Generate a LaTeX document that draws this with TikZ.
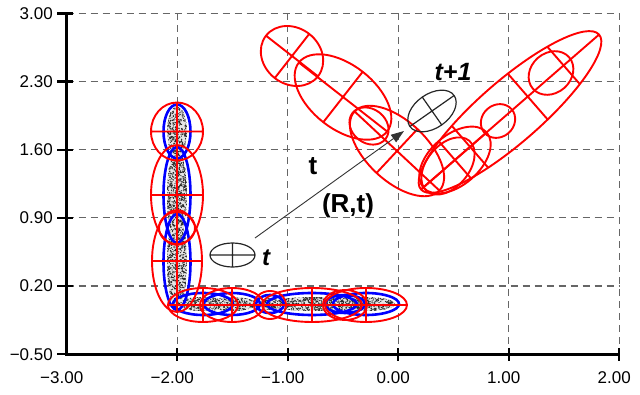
\documentclass[tikz,border=0pt]{standalone}
\usepackage{fontspec}
\setmainfont{Liberation Sans}
\usetikzlibrary{arrows.meta}
\tikzset{
  redline/.style={draw=red, line width=1.9pt},
  blueline/.style={draw=blue, line width=2.6pt},
  blackline/.style={draw=black!85, line width=1.2pt},
  gridline/.style={draw=black!60, line width=1.2pt, dash pattern=on 7pt off 5pt},
  axisline/.style={draw=black, line width=2.6pt},
  tickmark/.style={draw=black, line width=2.4pt},
  ticklabel/.style={font=\fontsize{17}{17}\selectfont, inner sep=0pt},
  biglabel/.style={font=\fontsize{25}{25}\selectfont\bfseries, inner sep=0pt},
  stipple/.style={fill=black!85},
}
\newcommand\ellX[5]{\draw[redline,shift={(#1,#2)},rotate=#3] (0,0) ellipse ({#4} and {#5}) (-#4,0)--(#4,0) (0,-#5)--(0,#5);}
\newcommand\ellO[5]{\draw[redline,shift={(#1,#2)},rotate=#3] (0,0) ellipse ({#4} and {#5});}
\begin{document}
\begin{tikzpicture}[x=1pt,y=-1pt]
\useasboundingbox (0,0) rectangle (640,395);
\fill[white] (0,0) rectangle (640,395);
% grid
\foreach \gx in {177.2,287.7,398.2,508.7,619.2} \draw[gridline] (\gx,13.4) -- (\gx,354.3);
\foreach \gy in {13.4,81.6,149.8,217.9,286.1} \draw[gridline] (66.7,\gy) -- (619.2,\gy);
% axes
\draw[axisline] (66.7,13.4) -- (66.7,354.3) -- (619.2,354.3);
\foreach \gy in {13.4,81.6,149.8,217.9,286.1,354.3} \draw[tickmark] (57,\gy) -- (73,\gy);
\foreach \gx in {177.2,287.7,398.2,508.7,619.2} \draw[tickmark] (\gx,348) -- (\gx,361);
% tick labels
\node[ticklabel, anchor=east] (y1) at (53,13.4) {3.00};
\node[ticklabel, anchor=east] (y2) at (53,81.6) {2.30};
\node[ticklabel, anchor=east] (y3) at (53,149.8) {1.60};
\node[ticklabel, anchor=east] (y4) at (53,217.9) {0.90};
\node[ticklabel, anchor=east] (y5) at (53,286.1) {0.20};
\node[ticklabel, anchor=east] (y6) at (53,354.3) {−0.50};
\node[ticklabel, anchor=base] (x1) at (61.7,383) {−3.00};
\node[ticklabel, anchor=base] (x2) at (172.2,383) {−2.00};
\node[ticklabel, anchor=base] (x3) at (282.7,383) {−1.00};
\node[ticklabel, anchor=base] (x4) at (393.2,383) {0.00};
\node[ticklabel, anchor=base] (x5) at (503.7,383) {1.00};
\node[ticklabel, anchor=base] (x6) at (614.2,383) {2.00};
% stipple (vertical)
\pgfmathsetseed{11}
\begin{scope}
  \clip (177,131.5) ellipse (10 and 25) (177,195) ellipse (10 and 45) (177,262) ellipse (10 and 46);
  \fill[black!10] (160,100) rectangle (195,315);
  \foreach \i in {1,...,1900} \fill[stipple] (166+22*rnd, 106+204*rnd) circle (0.65);
\end{scope}
% stipple (horizontal)
\begin{scope}
  \clip (203,304) ellipse (26 and 7) (232,304) ellipse (24 and 7) (270,304) ellipse (10 and 6)
        (312,304) ellipse (41 and 7) (345,304) ellipse (16 and 6) (366,304) ellipse (29 and 7);
  \fill[black!10] (170,290) rectangle (410,320);
  \foreach \i in {1,...,1700} \fill[stipple] (176+220*rnd, 296+16*rnd) circle (0.65);
\end{scope}
% blue ellipses
\draw[blueline] (177,131.5) ellipse (13.5 and 27) (177,195) ellipse (13.5 and 48)
  (177,262) ellipse (13.5 and 48);
\draw[blueline] (203,304) ellipse (30 and 11) (232,304) ellipse (28 and 11) (270,304) ellipse (14 and 9)
  (312,304) ellipse (45 and 11) (345,304) ellipse (20 and 9) (366,304) ellipse (33 and 11);
% red vertical chain
\ellX{177}{131.5}{0}{26}{29}
\ellX{177}{195}{0}{26}{50}
\ellO{177}{228}{0}{18}{16}
\ellX{177}{261}{0}{25}{51}
% red horizontal chain
\ellX{203}{305}{0}{35}{17}
\ellX{232}{305}{0}{32}{17}
\ellO{270}{305}{0}{16}{14}
\ellX{312}{305}{0}{50}{17}
\ellO{345}{305}{0}{22}{15}
\ellX{366}{305}{0}{41}{17}
% red upper-left group
\ellX{292}{56}{-38}{33}{28}
\ellX{343}{97}{-38}{56}{32}
\ellO{369}{126}{-38}{21}{17}
\ellX{397}{151}{-43}{58}{30}
% red right group
\ellX{455}{160}{41}{42}{25}
\ellO{448}{166}{50}{33}{21}
\draw[redline,shift={(510,112)},rotate=41] (0,0) ellipse (118 and 31) (-118,0)--(118,0)
  (-53,-27.7)--(-53,27.7) (23.5,-30.4)--(23.5,30.4) (71,-24.8)--(71,24.8);
\ellO{498}{121}{41}{18}{16}
\ellO{551}{73}{41}{24}{20}
% black ellipses
\draw[blackline] (232.5,255) ellipse (22.5 and 12) (210,255)--(255,255) (232.5,243)--(232.5,267);
\draw[blackline,shift={(432,111)},rotate=35] (0,0) ellipse (27 and 17) (-27,0)--(27,0) (0,-17)--(0,17);
% arrow
\coordinate (tstart) at (255,238);
\coordinate (tend) at (404,131);
\draw[black!80, line width=0.9pt, -{Triangle[length=13pt,width=9pt]}] (tstart) -- (tend);
% labels
\node[biglabel, font=\fontsize{24}{24}\selectfont\bfseries\itshape] (lt) at (266,258) {t};
\node[biglabel, font=\fontsize{25}{25}\selectfont\bfseries\itshape] (ltp) at (453,72) {t+1};
\node[biglabel, font=\fontsize{26}{26}\selectfont\bfseries] (ltm) at (313,166) {t};
\node[biglabel, font=\fontsize{26}{26}\selectfont\bfseries] (lrt) at (348,206) {(R,t)};
\end{tikzpicture}
\end{document}
